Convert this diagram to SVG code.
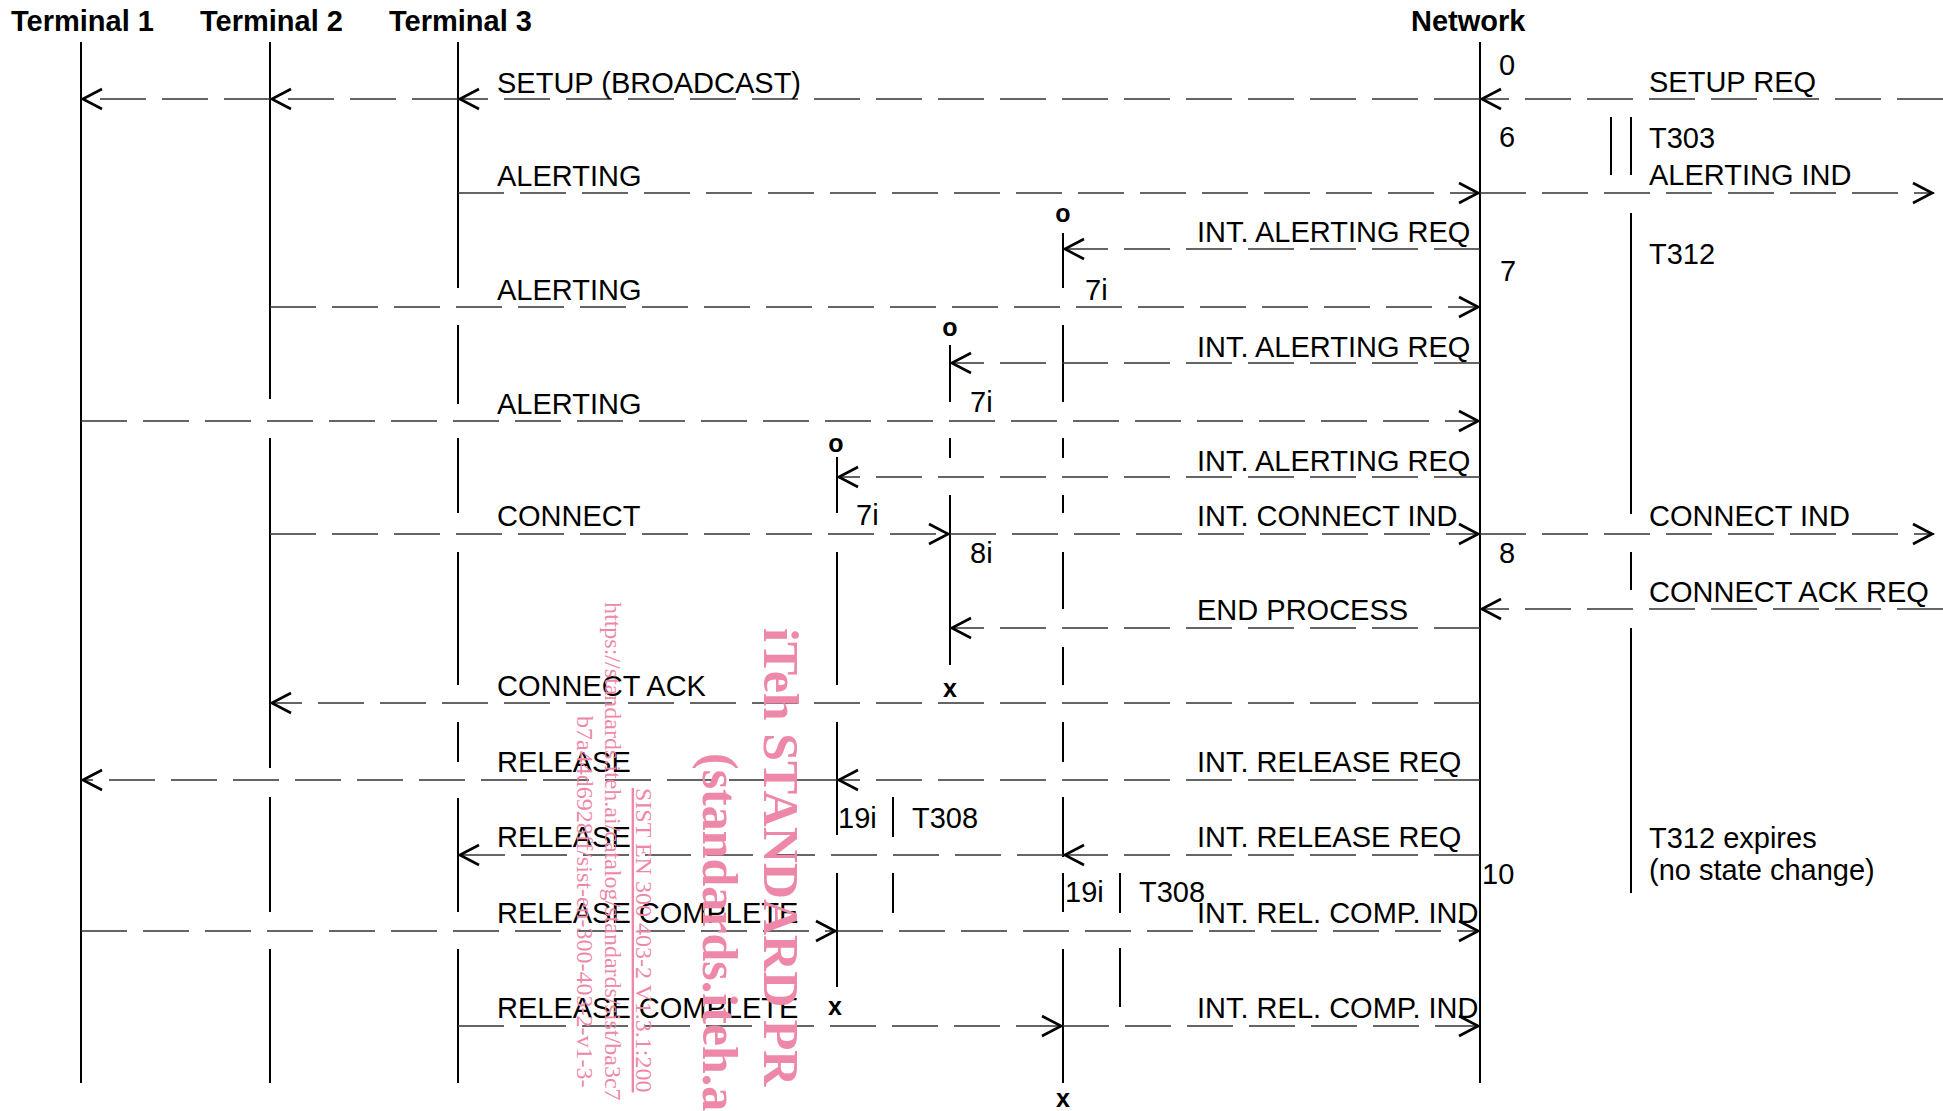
<svg xmlns="http://www.w3.org/2000/svg" width="1943" height="1111" viewBox="0 0 1943 1111">
<style>
text{font-family:"Liberation Sans",Arial,sans-serif;font-size:29px;fill:#000}
.hd{font-weight:bold;font-size:29px}
.b{font-weight:bold;font-size:25px;text-anchor:middle}
.ll{stroke:#000;stroke-width:2;fill:none}
.msg line{stroke:#333;stroke-width:1.5;stroke-dasharray:46 16;fill:none;marker-end:url(#ah)}
.wm text{font-family:"Liberation Serif","Times New Roman",serif;fill:#ee88a8}
.wm .big{font-size:50px;font-weight:bold}
.wm .sm{font-size:24px}
</style>
<defs>
<marker id="ah" markerUnits="userSpaceOnUse" viewBox="-24 -12 26 24" markerWidth="26" markerHeight="24" refX="0" refY="0" orient="auto" overflow="visible">
<path d="M-21,-10 L-1.8,0 L-21,10" fill="none" stroke="#000" stroke-width="2.6"/>
</marker>
</defs>
<rect width="1943" height="1111" fill="#fff"/>

<g id="terminal1">
<text class="hd" x="11" y="31">Terminal 1</text>
<path class="ll" d="M81,42V1083"/>
</g>
<g id="terminal2">
<text class="hd" x="200" y="31">Terminal 2</text>
<path class="ll" d="M270,42V399M270,438V768M270,797V912M270,949V1083"/>
</g>
<g id="terminal3">
<text class="hd" x="389" y="31">Terminal 3</text>
<path class="ll" d="M458,42V288M458,325V404M458,438V513M458,552V685M458,722V762M458,798V912M458,949V1083"/>
</g>
<g id="network">
<text class="hd" x="1411" y="31">Network</text>
<path class="ll" d="M1480,42V1083"/>
<text x="1499" y="75">0</text>
<text x="1499" y="147">6</text>
<text x="1500" y="281">7</text>
<text x="1499" y="563">8</text>
<text x="1482" y="884">10</text>
</g>
<g id="timer-t303">
<path class="ll" d="M1611,117V175M1631,117V175"/>
<text x="1649" y="148">T303</text>
</g>
<g id="timer-t312">
<path class="ll" d="M1631,213V514M1631,552V590M1631,628V893"/>
<text x="1649" y="264">T312</text>
<text x="1649" y="848">T312 expires</text>
<text x="1649" y="880">(no state change)</text>
</g>
<g id="process1">
<text class="b" x="1063" y="222">o</text>
<path class="ll" d="M1063,233V288M1063,325V402M1063,438V458M1063,495V513M1063,552V609M1063,647V685M1063,722V762M1063,797V857M1063,873V912M1063,949V1083"/>
<text x="1085" y="300">7i</text>
<text x="1065" y="902">19i</text>
<path class="ll" d="M1120,873V913M1120,948V1007"/>
<text x="1139" y="902">T308</text>
<text class="b" x="1063" y="1107">x</text>
</g>
<g id="process2">
<text class="b" x="950" y="336">o</text>
<path class="ll" d="M950,345V402M950,438V458M950,495V665"/>
<text x="970" y="412">7i</text>
<text x="970" y="563">8i</text>
<text class="b" x="950" y="697">x</text>
</g>
<g id="process3">
<text class="b" x="836" y="452">o</text>
<path class="ll" d="M837,457V513M837,552V685M837,722V835M837,873V987"/>
<text x="856" y="525">7i</text>
<text x="838" y="828">19i</text>
<path class="ll" d="M893,797V837M893,873V913"/>
<text x="912" y="828">T308</text>
<text class="b" x="835" y="1015">x</text>
</g>

<g id="connectors" class="msg">
<line x1="1943" y1="99" x2="1480" y2="99"/>
<line x1="1480" y1="99" x2="458" y2="99"/>
<line x1="458" y1="99" x2="270" y2="99"/>
<line x1="270" y1="99" x2="81" y2="99"/>
<line x1="458" y1="193" x2="1480" y2="193"/>
<line x1="1480" y1="193" x2="1934" y2="193"/>
<line x1="1480" y1="249" x2="1063" y2="249"/>
<line x1="270" y1="307" x2="1480" y2="307"/>
<line x1="1480" y1="363" x2="950" y2="363"/>
<line x1="81" y1="421" x2="1480" y2="421"/>
<line x1="1480" y1="477" x2="837" y2="477"/>
<line x1="270" y1="534" x2="950" y2="534"/>
<line x1="950" y1="534" x2="1480" y2="534"/>
<line x1="1480" y1="534" x2="1934" y2="534"/>
<line x1="1943" y1="609" x2="1480" y2="609"/>
<line x1="1480" y1="628" x2="950" y2="628"/>
<line x1="1480" y1="703" x2="270" y2="703"/>
<line x1="1480" y1="780" x2="837" y2="780"/>
<line x1="837" y1="780" x2="81" y2="780"/>
<line x1="1480" y1="855" x2="1063" y2="855"/>
<line x1="1063" y1="855" x2="458" y2="855"/>
<line x1="81" y1="931" x2="837" y2="931"/>
<line x1="837" y1="931" x2="1480" y2="931"/>
<line x1="458" y1="1026" x2="1063" y2="1026"/>
<line x1="1063" y1="1026" x2="1480" y2="1026"/>
</g>

<g id="labels">
<text x="497" y="93">SETUP (BROADCAST)</text>
<text x="1649" y="92">SETUP REQ</text>
<text x="497" y="186">ALERTING</text>
<text x="1649" y="185">ALERTING IND</text>
<text x="1197" y="242">INT. ALERTING REQ</text>
<text x="497" y="300">ALERTING</text>
<text x="1197" y="357">INT. ALERTING REQ</text>
<text x="497" y="414">ALERTING</text>
<text x="1197" y="471">INT. ALERTING REQ</text>
<text x="497" y="526">CONNECT</text>
<text x="1197" y="526">INT. CONNECT IND</text>
<text x="1649" y="526">CONNECT IND</text>
<text x="1649" y="602">CONNECT ACK REQ</text>
<text x="1197" y="620">END PROCESS</text>
<text x="497" y="696">CONNECT ACK</text>
<text x="497" y="772">RELEASE</text>
<text x="1197" y="772">INT. RELEASE REQ</text>
<text x="497" y="847">RELEASE</text>
<text x="1197" y="847">INT. RELEASE REQ</text>
<text x="497" y="923">RELEASE COMPLETE</text>
<text x="1197" y="923">INT. REL. COMP. IND</text>
<text x="497" y="1018">RELEASE COMPLETE</text>
<text x="1197" y="1018">INT. REL. COMP. IND</text>
</g>

<g class="wm">
<text class="big" transform="rotate(90 764 628)" x="764" y="628">iTeh STANDARD PR</text>
<text class="big" transform="rotate(90 703 753)" x="703" y="753">(standards.iteh.a</text>
<text class="sm" transform="rotate(90 605 602)" x="605" y="602">https://standards.iteh.ai/catalog/standards/sist/ba3c7</text>
<text class="sm" transform="rotate(90 577 716)" x="577" y="716">b7a44d6928ff/sist-en-300-403-2-v1-3-</text>
<text class="sm" transform="rotate(90 636 788)" x="636" y="788" text-decoration="underline">SIST EN 300 403-2 V1.3.1:200</text>
</g>
</svg>
